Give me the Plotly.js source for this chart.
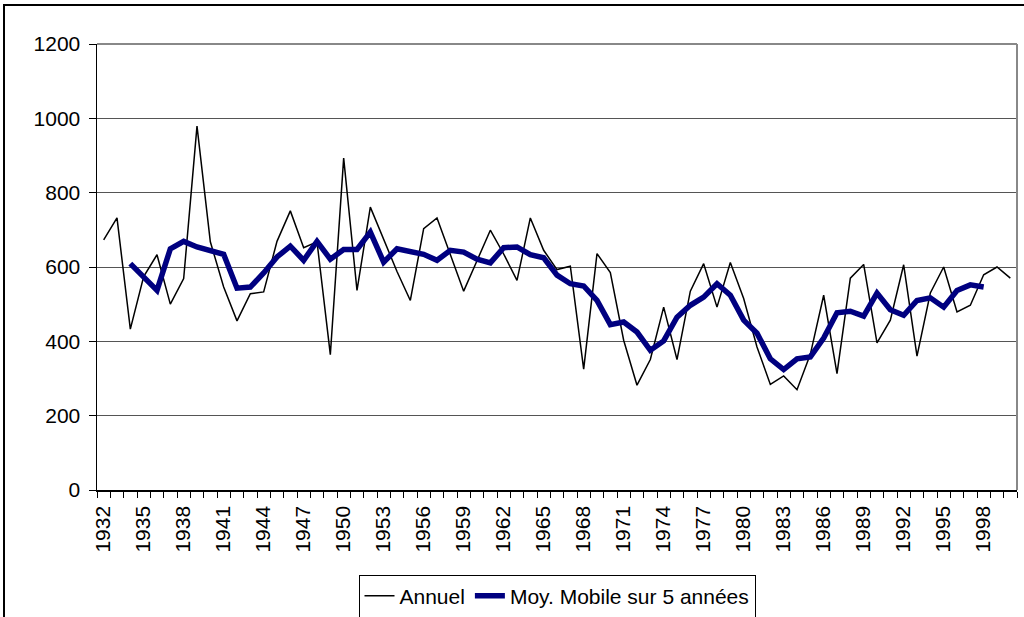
<!DOCTYPE html>
<html>
<head>
<meta charset="utf-8">
<script src="https://cdn.plot.ly/plotly-3.0.1.min.js"></script>
<style>
  html, body { margin: 0; padding: 0; width: 1024px; height: 617px; overflow: hidden; background: #fff; }
  #chart { position: absolute; left: 0; top: 0; width: 1024px; height: 617px; }
  #frame { position: absolute; left: 3px; top: 4px; width: 2000px; height: 2000px; border: 2px solid #000; pointer-events: none; }
</style>
</head>
<body>
<div id="chart"></div>
<div id="frame"></div>
<script>
const years = [1932,1933,1934,1935,1936,1937,1938,1939,1940,1941,1942,1943,1944,1945,1946,1947,1948,1949,
  1950,1951,1952,1953,1954,1955,1956,1957,1958,1959,1960,1961,1962,1963,1964,1965,1966,1967,1968,1969,
  1970,1971,1972,1973,1974,1975,1976,1977,1978,1979,1980,1981,1982,1983,1984,1985,1986,1987,1988,1989,
  1990,1991,1992,1993,1994,1995,1996,1997,1998,1999,2000];

const annuel = [673,732,433,574,633,500,569,979,668,546,455,528,533,669,751,652,668,364,
  893,537,761,672,588,510,703,732,634,535,617,699,635,564,732,645,593,602,325,636,
  585,403,282,351,492,351,535,609,492,612,515,385,284,307,270,365,524,313,570,607,
  396,457,606,360,530,600,479,497,579,600,570];

const moyMobile = [null,null,609,573,537,649,669,654,643,634,543,546,584,627,656,618,669,621,
  647,647,694,613,649,643,634,618,645,640,621,611,652,654,633,625,578,555,549,510,
  445,452,425,376,401,465,497,519,555,524,457,422,353,324,353,358,409,477,481,468,
  530,485,470,510,517,492,537,552,546,null,null];

const tickYears = [1932,1935,1938,1941,1944,1947,1950,1953,1956,1959,1962,1965,1968,1971,1974,1977,1980,1983,1986,1989,1992,1995,1998];
const tickLabels = ["1932","1935","1938","1941","1944","1947","1950","1953","1956","1959","1962","1965","1968","1971","1974","1977","1980","1983","1986","1989","1992","1995","1998"];
const yTicks = [0,200,400,600,800,1000,1200];

const FONT = "Liberation Sans, Arial, sans-serif";
const FS = 21;

const traces = [
  { x: years, y: annuel, type: 'scatter', mode: 'lines', name: 'Annuel',
    line: { color: '#000000', width: 1.5 } },
  { x: years, y: moyMobile, type: 'scatter', mode: 'lines', name: 'Moy. Mobile sur 5 années',
    line: { color: '#000080', width: 5.5 }, connectgaps: false }
];

const layout = {
  width: 1024, height: 617,
  margin: { l: 97, r: 7, t: 44, b: 127 },
  paper_bgcolor: 'rgba(0,0,0,0)', plot_bgcolor: '#ffffff',
  font: { family: FONT, size: FS, color: '#000' },
  showlegend: true,
  legend: {
    orientation: 'h', x: 0.5, xanchor: 'center', xref: 'paper',
    y: 0.034, yanchor: 'middle', yref: 'container',
    bordercolor: '#000', borderwidth: 1, bgcolor: '#fff',
    font: { family: FONT, size: FS, color: '#000' },
    itemwidth: 30, tracegroupgap: 0
  },
  xaxis: {
    range: [1931.5, 2000.5], tickmode: 'array', tickvals: tickYears, ticktext: tickLabels,
    tickangle: -90, ticks: 'outside', ticklen: 6, tickcolor: 'rgba(0,0,0,0)',
    showgrid: false, zeroline: false, showline: true, linecolor: '#000', linewidth: 1.5,
    automargin: false,
    tickfont: { family: FONT, size: FS, color: '#000' },
    minor: { tickmode: 'linear', tick0: 1931.5, dtick: 1, ticks: 'outside', ticklen: 6, tickcolor: '#000', tickwidth: 1, showgrid: false }
  },
  yaxis: {
    range: [0, 1200], tickmode: 'array', tickvals: yTicks, ticktext: yTicks.map(String),
    ticks: 'outside', ticklen: 7, tickcolor: '#000', tickwidth: 1,
    showgrid: true, gridcolor: '#555', gridwidth: 1,
    zeroline: false, showline: true, linecolor: '#000', linewidth: 1.5,
    automargin: false,
    tickfont: { family: FONT, size: FS, color: '#000' }, ticklabelstandoff: 4
  },
  shapes: [
    { type: 'line', xref: 'paper', yref: 'paper', x0: 0, x1: 1, y0: 1, y1: 1, line: { color: '#888', width: 2 } },
    { type: 'line', xref: 'paper', yref: 'paper', x0: 1, x1: 1, y0: 0, y1: 1, line: { color: '#888', width: 2 } }
  ]
};

Plotly.newPlot('chart', traces, layout, { staticPlot: true, displayModeBar: false });
</script>
</body>
</html>
